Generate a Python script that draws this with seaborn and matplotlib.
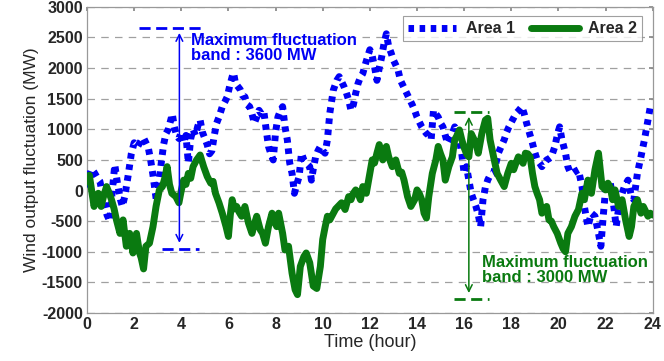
import matplotlib
matplotlib.use("Agg")
import matplotlib.pyplot as plt
import seaborn as sns
import pandas as pd

area1_hours = [0.0, 0.1, 0.2, 0.3, 0.45, 0.55, 0.65, 0.75, 0.85, 0.97, 1.05, 1.18, 1.3, 1.42, 1.5, 1.6, 1.74, 1.88,
               2.0, 2.15, 2.3, 2.4, 2.5, 2.6, 2.7, 2.8, 2.87, 2.95, 3.05, 3.15, 3.25, 3.35, 3.45, 3.55, 3.62, 3.7,
               3.8, 3.9, 4.0, 4.1, 4.2, 4.3, 4.4, 4.5, 4.6, 4.7, 4.8, 4.9, 5.0, 5.1, 5.2, 5.3, 5.4, 5.5, 5.6,
               5.74, 5.85, 5.95, 6.05, 6.16, 6.22, 6.3, 6.4, 6.5, 6.6, 6.7, 6.8, 6.9, 7.0, 7.1, 7.2, 7.3, 7.4,
               7.5, 7.6, 7.7, 7.8, 7.9, 8.0, 8.1, 8.2, 8.3, 8.4, 8.5, 8.6, 8.7, 8.8, 8.9, 9.0, 9.1, 9.2, 9.3,
               9.45, 9.52, 9.6, 9.7, 9.8, 9.9, 10.0, 10.1, 10.2, 10.3, 10.45, 10.6, 10.7, 10.8, 10.9, 11.0, 11.1,
               11.2, 11.3, 11.4, 11.5, 11.6, 11.7, 11.8, 11.9, 12.0, 12.1, 12.2, 12.3, 12.4, 12.5, 12.6, 12.7,
               12.8, 12.9, 13.0, 13.1, 13.2, 13.3, 13.4, 13.5, 13.6, 13.7, 13.8, 13.9, 14.0, 14.1, 14.2, 14.3,
               14.4, 14.5, 14.6, 14.7, 14.8, 14.9, 15.0, 15.1, 15.2, 15.3, 15.4, 15.5, 15.6, 15.7, 15.8, 15.9,
               16.0, 16.1, 16.2, 16.3, 16.4, 16.5, 16.6, 16.7, 16.8, 16.9, 17.0, 17.1, 17.25, 17.35, 17.45, 17.55,
               17.7, 17.8, 17.9, 18.05, 18.2, 18.3, 18.45, 18.55, 18.65, 18.8, 18.9, 19.0, 19.1, 19.2, 19.3, 19.4,
               19.5, 19.6, 19.7, 19.85, 19.95, 20.05, 20.15, 20.3, 20.4, 20.5, 20.6, 20.75, 20.85, 21.0, 21.1,
               21.25, 21.4, 21.55, 21.7, 21.8, 21.9, 22.0, 22.1, 22.2, 22.3, 22.45, 22.6, 22.7, 22.8, 22.95, 23.1,
               23.2, 23.35, 23.5, 23.65, 23.8, 23.9, 24.0]
area1_mw = [50, 250, 350, 300, 200, 150, -50, -250, -400, -500, -100, 420, 100, -150, -260, -100, 230, 600,
            780, 720, 820, 860, 780, 700, 500, 250, 50, -180, 100, 450, 750, 930, 1000, 1150, 1250, 1050,
            900, 850, 950, 780, 900, 450, 850, 1000, 900, 1050, 1150, 950, 850, 750, 600, 650, 900, 1100, 1200,
            1370, 1450, 1530, 1700, 1860, 1920, 1750, 1700, 1650, 1550, 1530, 1400, 1370, 1250, 1100, 1200, 1310, 1250,
            1300, 1000, 720, 600, 500, 950, 1200, 1300, 1370, 1040, 825, 450, 280, -45, 100, 230, 610, 500, 450,
            390, 170, 350, 550, 650, 720, 650, 610, 830, 1260, 1640, 1800, 1860, 1780, 1700, 1600, 1480,
            1310, 1400, 1590, 1750, 1850, 1910, 2050, 2180, 2300, 2200, 2020, 1800, 2000, 2180, 2400, 2560,
            2350, 2250, 2130, 2050, 1960, 1800, 1720, 1640, 1560, 1480, 1400, 1310, 1200, 1120, 1040, 980,
            930, 900, 830, 1310, 1250, 1200, 1100, 1040, 900, 770, 850, 930, 1040, 950, 830, 600,
            280, 390, 170, -45, -150, -260, -400, -590, -150, 50, 170, 250, 280, 450, 610, 700,
            830, 950, 1040, 1150, 1260, 1300, 1370, 1250, 1100, 900, 770, 620, 500, 450, 390, 450,
            500, 520, 550, 720, 900, 1040, 830, 610, 390, 300, 280, 320, 340, 65, -260,
            -590, -370, -420, -700, -910, -420, 10, 80, 120, -100, -590, -150, -50, 65, 170, -100,
            -150, 280, 550, 830, 1150, 1370, 1300]

area2_hours = [0.0, 0.1, 0.2, 0.3, 0.4, 0.48, 0.6, 0.7, 0.83, 0.95, 1.04, 1.15, 1.25, 1.4, 1.53, 1.67, 1.81, 1.95,
               2.1, 2.23, 2.3, 2.4, 2.5, 2.65, 2.8, 2.93, 3.07, 3.2, 3.3, 3.4, 3.5, 3.6, 3.77, 3.9, 4.0, 4.1,
               4.2, 4.3, 4.4, 4.5, 4.65, 4.8, 4.95, 5.1, 5.25, 5.35, 5.45, 5.6, 5.74, 5.9, 6.0, 6.08, 6.16, 6.25,
               6.35, 6.45, 6.56, 6.7, 6.85, 7.0, 7.1, 7.2, 7.35, 7.45, 7.57, 7.7, 7.85, 7.95, 8.05, 8.13, 8.3,
               8.4, 8.55, 8.7, 8.83, 8.93, 9.05, 9.2, 9.3, 9.45, 9.6, 9.75, 9.9, 10.0, 10.1, 10.2, 10.3, 10.45,
               10.55, 10.65, 10.8, 10.95, 11.1, 11.2, 11.3, 11.4, 11.5, 11.6, 11.7, 11.85, 12.0, 12.1, 12.2,
               12.3, 12.4, 12.55, 12.7, 12.8, 12.95, 13.1, 13.25, 13.35, 13.45, 13.6, 13.74, 13.9, 14.0, 14.1,
               14.2, 14.3, 14.4, 14.5, 14.65, 14.8, 14.9, 15.0, 15.1, 15.2, 15.35, 15.5, 15.6, 15.7, 15.8, 15.9,
               16.0, 16.1, 16.2, 16.3, 16.4, 16.5, 16.6, 16.75, 16.9, 17.0, 17.1, 17.25, 17.4, 17.55, 17.7,
               17.85, 18.0, 18.1, 18.2, 18.3, 18.4, 18.5, 18.6, 18.7, 18.8, 18.9, 19.0, 19.1, 19.2, 19.3, 19.4,
               19.5, 19.6, 19.7, 19.8, 19.95, 20.1, 20.2, 20.3, 20.4, 20.55, 20.7, 20.85, 21.0, 21.1, 21.25,
               21.4, 21.55, 21.7, 21.85, 22.0, 22.1, 22.2, 22.3, 22.4, 22.55, 22.7, 22.85, 23.0, 23.1, 23.2,
               23.35, 23.5, 23.6, 23.8, 23.9, 24.0]
area2_mw = [150, 250, 0, -260, -100, -45, -260, -100, 65, -50, -150, -300, -480, -700, -480, -910, -700, -1020,
            -700, -1020, -1100, -1280, -910, -860, -590, -260, 10, 65, 200, 390, 100, -45, -100, -200, 0, 170,
            100, 280, 200, 390, 500, 580, 390, 230, 120, 150, -45, -200, -370, -590, -750, -400, -150, -300,
            -260, -350, -420, -260, -530, -700, -550, -420, -640, -700, -860, -590, -370, -500, -590, -370, -700,
            -970, -910, -1350, -1620, -1700, -1240, -1080, -1020, -1180, -1560, -1600, -1240, -800, -600, -420, -480, -370,
            -300, -260, -200, -310, -100, -150, -45, 10, -50, -150, 65, -45, 280, 500, 450,
            610, 750, 500, 720, 550, 390, 500, 280, 300, 170, -100, -260, -150, 10, -50,
            -150, -370, -450, -100, 280, 500, 720, 600, 500, 170, 390, 550, 830, 900, 990, 830,
            700, 600, 550, 930, 850, 770, 610, 930, 1150, 1180, 830, 550, 280, 170, 65,
            280, 445, 340, 450, 550, 500, 445, 610, 600, 550, 280, 65, -50, -150, -370, -300,
            -260, -480, -500, -590, -700, -860, -950, -1000, -700, -590, -420, -310, -45, -150, 170,
            -45, 340, 610, 65, 10, 120, 50, -150, 10, -260, -150, -480, -750, -590, -260,
            -150, -370, -260, -420, -370, -400]

x_ticks = list(range(0, 25, 2))
y_ticks = list(range(-2000, 3001, 500))

BLUE = "#0000f5"
GREEN = "#0a7a10"

sns.set_theme(style="white")
plt.rcParams["font.family"] = ["Liberation Sans", "DejaVu Sans"]

fig = plt.figure(figsize=(6.64, 3.61), dpi=100)
ax = fig.add_axes([0.131, 0.133, 0.852, 0.848])

df1 = pd.DataFrame({"hour": area1_hours, "mw": area1_mw})
df2 = pd.DataFrame({"hour": area2_hours, "mw": area2_mw})

sns.lineplot(data=df1, x="hour", y="mw", ax=ax, color=BLUE, linewidth=5,
             linestyle=(0, (0.8, 0.8)), label="Area 1", zorder=3)
sns.lineplot(data=df2, x="hour", y="mw", ax=ax, color=GREEN, linewidth=5,
             label="Area 2", zorder=4)

ax.set_xlim(0, 24)
ax.set_ylim(-2000, 3000)
ax.set_xticks(x_ticks)
ax.set_yticks(y_ticks)
ax.set_xticklabels([str(t) for t in x_ticks], fontweight="bold", fontsize=11.5)
ax.set_yticklabels([str(t) for t in y_ticks], fontweight="bold", fontsize=11.5)
ax.tick_params(direction="in", top=True, right=True, length=3, color="#888888", pad=3)
ax.yaxis.grid(True, linestyle=(0, (6, 5)), color="#a0a0a0", linewidth=0.9)
ax.xaxis.grid(False)
for s in ax.spines.values():
    s.set_color("#999999")
    s.set_linewidth(0.9)

ax.set_xlabel("Time (hour)", fontsize=13, labelpad=1)
ax.set_ylabel("Wind output fluctuation (MW)", fontsize=12.5, labelpad=2)

# Annotation: Area 1 band
ax.plot([2.2, 4.9], [2650, 2650], color=BLUE, linestyle=(0, (4, 2)), linewidth=2, zorder=5)
ax.plot([3.2, 4.75], [-950, -950], color=BLUE, linestyle=(0, (4, 2)), linewidth=2, zorder=5)
ax.annotate("", xy=(3.92, 2620), xytext=(3.92, -900),
            arrowprops=dict(arrowstyle="<->", color=BLUE, lw=1.1, mutation_scale=12), zorder=5)
ax.text(4.4, 2330, "Maximum fluctuation\nband : 3600 MW", color=BLUE, fontsize=12,
        fontweight="bold", va="center", ha="left", linespacing=1.0, zorder=6)

# Annotation: Area 2 band
ax.plot([15.55, 17.05], [1290, 1290], color=GREEN, linestyle=(0, (4, 2)), linewidth=2, zorder=5)
ax.plot([15.55, 17.05], [-1770, -1770], color=GREEN, linestyle=(0, (4, 2)), linewidth=2, zorder=5)
ax.annotate("", xy=(16.2, 1250), xytext=(16.2, -1720),
            arrowprops=dict(arrowstyle="<->", color=GREEN, lw=1.1, mutation_scale=12), zorder=5)
ax.text(16.75, -1290, "Maximum fluctuation\nband : 3000 MW", color=GREEN, fontsize=12,
        fontweight="bold", va="center", ha="left", linespacing=1.0, zorder=6)

leg = ax.legend(loc="upper right", ncol=2, frameon=True, fancybox=False, handlelength=3.0,
                columnspacing=1.0, borderpad=0.3, handletextpad=0.6,
                prop={"weight": "bold", "size": 11.5}, bbox_to_anchor=(0.995, 0.995))
leg.get_frame().set_edgecolor("#888888")
leg.get_frame().set_linewidth(0.8)

fig.savefig("out.png", dpi=100)
